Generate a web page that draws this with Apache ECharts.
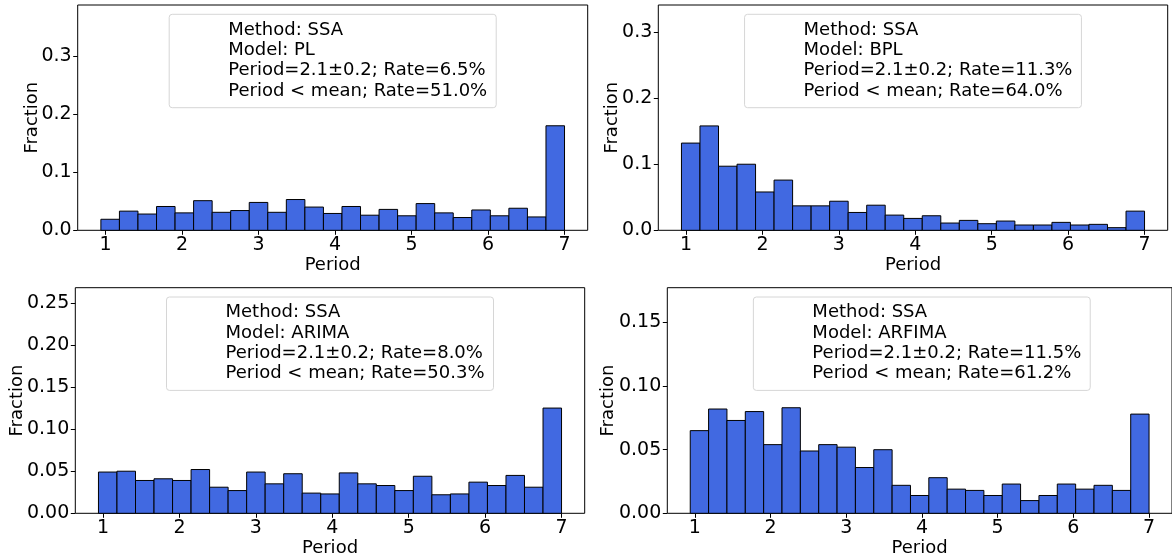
<!DOCTYPE html>
<html>
<head>
<meta charset="utf-8">
<script src="https://cdn.jsdelivr.net/npm/echarts@6/dist/echarts.min.js"></script>
<style>
  html, body { margin: 0; padding: 0; background: #ffffff; }
  #chart { width: 1172px; height: 559px; }
</style>
</head>
<body>
<div id="chart"></div>
<script>
// Histogram bins of the detected period (25 equal bins)
const binStart = 0.94;
const binEnd = 7.0;
const binCount = 25;

const periodTicks = [1, 2, 3, 4, 5, 6, 7];

// Fraction of series per period bin, one array per noise model
const plFraction = [0.019, 0.033, 0.028, 0.041, 0.030, 0.051, 0.031, 0.034, 0.048, 0.031, 0.053, 0.040, 0.029,
                    0.041, 0.026, 0.036, 0.025, 0.046, 0.030, 0.022, 0.035, 0.025, 0.038, 0.023, 0.180];
const bplFraction = [0.132, 0.158, 0.097, 0.100, 0.058, 0.076, 0.037, 0.037, 0.044, 0.027, 0.038, 0.023, 0.018,
                     0.022, 0.011, 0.015, 0.010, 0.014, 0.008, 0.008, 0.012, 0.008, 0.009, 0.004, 0.029];
const arimaFraction = [0.049, 0.050, 0.039, 0.041, 0.039, 0.052, 0.031, 0.027, 0.049, 0.035, 0.047, 0.024, 0.023,
                       0.048, 0.035, 0.033, 0.027, 0.044, 0.022, 0.023, 0.037, 0.033, 0.045, 0.031, 0.125];
const arfimaFraction = [0.065, 0.082, 0.073, 0.080, 0.054, 0.083, 0.049, 0.054, 0.052, 0.036, 0.050, 0.022, 0.014,
                        0.028, 0.019, 0.018, 0.014, 0.023, 0.010, 0.014, 0.023, 0.019, 0.022, 0.018, 0.078];

// Y tick labels per panel
const yTicksPL = [0, 0.1, 0.2, 0.3];
const yTicksBPL = [0, 0.1, 0.2, 0.3];
const yTicksARIMA = [0, 0.05, 0.10, 0.15, 0.20, 0.25];
const yTicksARFIMA = [0, 0.05, 0.10, 0.15];

// Legend text per panel
const legendPL = ['Method: SSA', 'Model: PL', 'Period=2.1\u00b10.2; Rate=6.5%', 'Period < mean; Rate=51.0%'];
const legendBPL = ['Method: SSA', 'Model: BPL', 'Period=2.1\u00b10.2; Rate=11.3%', 'Period < mean; Rate=64.0%'];
const legendARIMA = ['Method: SSA', 'Model: ARIMA', 'Period=2.1\u00b10.2; Rate=8.0%', 'Period < mean; Rate=50.3%'];
const legendARFIMA = ['Method: SSA', 'Model: ARFIMA', 'Period=2.1\u00b10.2; Rate=11.5%', 'Period < mean; Rate=61.2%'];

const FONT = '"DejaVu Sans", "Liberation Sans", sans-serif';
const BAR_COLOR = '#4169e1';

const panels = [
  { values: plFraction,     yTicks: yTicksPL,     decimals: 1, yMax: 0.388,  legend: legendPL,
    grid: { left: 77.7,  top: 5,     width: 510,   height: 225.3 }, yNameGap: 36.5 },
  { values: bplFraction,    yTicks: yTicksBPL,    decimals: 1, yMax: 0.341,  legend: legendBPL,
    grid: { left: 658.3, top: 5,     width: 509.4, height: 225.3 }, yNameGap: 37 },
  { values: arimaFraction,  yTicks: yTicksARIMA,  decimals: 2, yMax: 0.268,  legend: legendARIMA,
    grid: { left: 75.3,  top: 287.7, width: 509.4, height: 225.6 }, yNameGap: 48.5 },
  { values: arfimaFraction, yTicks: yTicksARFIMA, decimals: 2, yMax: 0.1774, legend: legendARFIMA,
    grid: { left: 667.3, top: 287.7, width: 509,   height: 225.6 }, yNameGap: 49.5 }
];

const xMin = 0.637, xMax = 7.303;

function binData(values) {
  const w = (binEnd - binStart) / binCount;
  return values.map((v, i) => [binStart + i * w, binStart + (i + 1) * w, v]);
}

const measureCtx = document.createElement('canvas').getContext('2d');
function textWidth(s, size) {
  measureCtx.font = size + 'px ' + FONT;
  return measureCtx.measureText(s).width;
}

const grids = [], xAxes = [], yAxes = [], series = [], graphics = [];

panels.forEach((p, k) => {
  grids.push(Object.assign({ show: true, borderColor: '#000', borderWidth: 1, backgroundColor: 'transparent' }, p.grid));

  xAxes.push({
    gridIndex: k, type: 'value', min: xMin, max: xMax,
    name: 'Period', nameLocation: 'middle', nameGap: 26.5, nameMoveOverlap: false,
    nameTextStyle: { fontSize: 18, fontFamily: FONT, color: '#000' },
    axisLine: { show: false },
    splitLine: { show: false },
    axisTick: { show: true, customValues: periodTicks, length: 4.5, lineStyle: { color: '#000', width: 1 } },
    axisLabel: { customValues: periodTicks, fontSize: 19, fontFamily: FONT, color: '#000', margin: 5,
                 formatter: v => String(v) }
  });

  yAxes.push({
    gridIndex: k, type: 'value', min: 0, max: p.yMax,
    name: 'Fraction', nameLocation: 'middle', nameGap: p.yNameGap, nameMoveOverlap: false,
    nameTextStyle: { fontSize: 18, fontFamily: FONT, color: '#000' },
    axisLine: { show: false },
    splitLine: { show: false },
    axisTick: { show: true, customValues: p.yTicks, length: 4.5, lineStyle: { color: '#000', width: 1 } },
    axisLabel: { customValues: p.yTicks, fontSize: 19, fontFamily: FONT, color: '#000', margin: 6,
                 formatter: v => v.toFixed(p.decimals) }
  });

  series.push({
    type: 'custom', xAxisIndex: k, yAxisIndex: k,
    data: binData(p.values),
    encode: { x: [0, 1], y: 2 },
    renderItem: function (params, api) {
      const a = api.coord([api.value(0), 0]);
      const b = api.coord([api.value(1), api.value(2)]);
      return {
        type: 'rect',
        shape: { x: a[0], y: b[1], width: b[0] - a[0], height: a[1] - b[1] },
        style: { fill: BAR_COLOR, stroke: '#000', lineWidth: 1 }
      };
    }
  });

  // Legend box in the upper centre of the axes, text lines without handles
  const lw = Math.max.apply(null, p.legend.map(s => textWidth(s, 18)));
  const boxW = 59 + lw + 9;
  const cx = p.grid.left + p.grid.width / 2;
  const boxLeft = cx - boxW / 2;
  const boxTop = p.grid.top + 9.3;
  graphics.push({
    type: 'rect', z: 10,
    shape: { x: boxLeft, y: boxTop, width: boxW, height: 93.4, r: 3 },
    style: { fill: 'rgba(255,255,255,0.8)', stroke: '#d6d6d6', lineWidth: 1 }
  });
  p.legend.forEach((s, i) => {
    graphics.push({
      type: 'text', z: 11,
      x: boxLeft + 59, y: boxTop + 15.6 + i * 20.4,
      style: { text: s, font: '18px ' + FONT, fill: '#000', textAlign: 'left', textVerticalAlign: 'middle' }
    });
  });
});

const chart = echarts.init(document.getElementById('chart'), null, { renderer: 'canvas' });
chart.setOption({
  backgroundColor: '#ffffff',
  animation: false,
  grid: grids,
  xAxis: xAxes,
  yAxis: yAxes,
  series: series,
  graphic: graphics
});
</script>
</body>
</html>
